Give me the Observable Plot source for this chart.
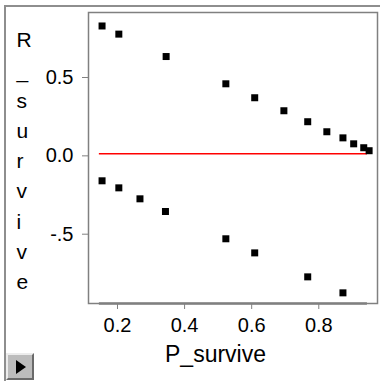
<!DOCTYPE html>
<html>
<head>
<meta charset="utf-8">
<script src="https://cdn.jsdelivr.net/npm/d3@7"></script>
<script src="https://cdn.jsdelivr.net/npm/@observablehq/plot@0.6"></script>
<style>
  html, body { margin: 0; padding: 0; background: #fff; }
  #wrap { position: relative; width: 380px; height: 381px; overflow: hidden; font-family: "Liberation Sans", Arial, sans-serif; }
  #wrap svg { position: absolute; left: 0; top: 0; }
  #outer { position: absolute; left: 4px; top: 5px; width: 400px; height: 400px; border-left: 2px solid #8e8e8e; border-top: 2px solid #8e8e8e; box-sizing: border-box; }
  #btn { position: absolute; left: 6px; top: 353px; width: 28px; height: 27px; box-sizing: border-box; background: #bcbcbc; border-top: 2px solid #ececec; border-left: 2px solid #ececec; border-right: 2px solid #6a6a6a; border-bottom: 2px solid #6a6a6a; }
  #tri { position: absolute; left: 8px; top: 5px; width: 0; height: 0; border-left: 10px solid #000; border-top: 7px solid transparent; border-bottom: 7px solid transparent; }
</style>
</head>
<body>
<div id="wrap"><div id="outer"></div><div id="btn"><div id="tri"></div></div></div>
<script>
// Upper branch of residuals
const pUpper = [0.154, 0.204, 0.345, 0.523, 0.609, 0.696, 0.767, 0.824, 0.872, 0.904, 0.934, 0.950];
const rUpper = [0.816, 0.764, 0.621, 0.447, 0.358, 0.275, 0.205, 0.141, 0.102, 0.064, 0.039, 0.020];
// Lower branch of residuals
const pLower = [0.154, 0.204, 0.267, 0.343, 0.523, 0.609, 0.767, 0.872];
const rLower = [-0.172, -0.217, -0.287, -0.368, -0.542, -0.632, -0.785, -0.887];
// Zero reference line and x range marker extent
const zeroLineX = [0.146, 0.945];
// Axis ticks
const xTicks = [0.2, 0.4, 0.6, 0.8];
const xTickLabels = ["0.2", "0.4", "0.6", "0.8"];
const yTicks = [-0.5, 0, 0.5];
const yTickLabels = ["-.5", "0.0", "0.5"];
const xDomain = [0.1136, 0.975];
const yDomain = [-0.955, 0.902];
const xTitle = "P_survive";
const yTitle = "R_survive";

const points = [
  ...pUpper.map((p, i) => ({p, r: rUpper[i]})),
  ...pLower.map((p, i) => ({p, r: rLower[i]}))
];

const grey = "#808080";
const chart = Plot.plot({
  width: 380,
  height: 381,
  marginLeft: 88,
  marginRight: 3,
  marginTop: 12,
  marginBottom: 78,
  style: {fontFamily: "'Liberation Sans', Arial, sans-serif", fontSize: "20px", color: "#000", background: "transparent"},
  x: {domain: xDomain},
  y: {domain: yDomain},
  marks: [
    Plot.frame({stroke: grey, strokeWidth: 1.5}),
    Plot.ruleY([yDomain[0]], {x1: zeroLineX[0], x2: zeroLineX[1], stroke: grey, strokeWidth: 2.5}),
    Plot.axisX({ticks: xTicks, tickFormat: (d) => xTickLabels[xTicks.indexOf(d)], tickSize: 6, tickPadding: 8, stroke: grey, fill: "#000", fontSize: 20, label: null}),
    Plot.axisY({ticks: yTicks, tickFormat: (d) => yTickLabels[yTicks.indexOf(d)], tickSize: 6, tickPadding: 9, dy: 2, stroke: grey, fill: "#000", fontSize: 20, label: null}),
    Plot.ruleY([0], {x1: zeroLineX[0], x2: zeroLineX[1], stroke: "#ff0000", strokeWidth: 1.5}),
    Plot.dot(points, {x: "p", y: "r", symbol: "square", r: 3.95, fill: "#000", stroke: null}),
    Plot.text([xTitle], {frameAnchor: "bottom", dx: -17.5, dy: 58.5, fontSize: 23, fill: "#000", textAnchor: "middle"}),
    Plot.text([yTitle.split("").join("\n")], {frameAnchor: "left", dx: -72, dy: 0.5, fontSize: 21, lineHeight: 1.438, fill: "#000", textAnchor: "start"})
  ]
});
document.getElementById("wrap").insertBefore(chart, document.getElementById("outer"));
</script>
</body>
</html>
